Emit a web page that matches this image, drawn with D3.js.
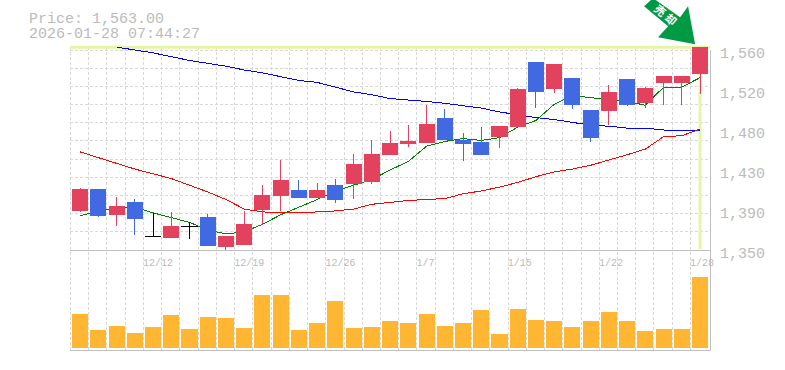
<!DOCTYPE html>
<html>
<head>
<meta charset="utf-8">
<style>
  html, body { margin: 0; padding: 0; background: #fff; }
  svg { display: block; font-family: "Liberation Mono", monospace; }
</style>
</head>
<body>
<svg width="785" height="370"></svg>
<script src="https://cdn.jsdelivr.net/npm/d3@7"></script>
<script>
const opens  = [1391,1414,1387,1400,1365,1363,1375,1385,1353,1355,1392,1407,1413,1405,1418,1419,1421,1450,1461,1462,1489,1465.5,1463,1469,1479,1547,1519,1531,1497,1496,1530,1504,1525,1525,1535];
const closes = [1414,1386,1396,1383,1365,1375,1375,1354,1365,1377,1408,1423,1405,1413,1402,1440,1451,1462,1464,1482,1465.5,1461,1450,1480,1519,1516,1545,1502,1468,1516,1502,1520,1533,1533,1563];
const highs  = [1415,1414,1406,1404,1389,1390,1379,1388,1365,1391,1418,1445,1423,1420,1425,1451,1466,1475,1481,1502,1498,1473,1479,1480,1520,1547,1545,1531,1497,1523,1530,1521,1533,1533,1563];
const lows   = [1390,1385,1375,1366,1365,1363,1362,1354,1350,1355,1376,1391,1405,1405,1399,1404,1419,1450,1458,1462,1465,1443,1450,1457,1479,1499,1515,1498,1463,1481,1501,1499,1502,1502,1514];
const ma5    = [1386,1391,1394,1395,1389,1384,1379,1371,1367,1369,1377,1387,1395,1403,1412,1418,1424,1434,1443,1459,1464,1467,1465,1468,1479,1486,1503,1512,1510,1508,1506,1502,1521,1521,1531];
const ma25   = [1453,1447,1441,1435,1430,1425,1418,1411,1403,1393,1390,1389,1389,1390,1391,1393,1398,1400,1402,1403,1404,1409,1412,1416,1421,1427,1432,1435,1439,1444.5,1450,1456,1469,1470,1477];
const ma75   = [null,null,1563,1560,1557,1553,1549,1546,1543,1539,1536,1532,1528,1526,1521,1516,1513,1509,1507.5,1506,1504,1501.5,1499,1495,1492,1489,1487,1484,1481,1480,1478,1478,1476,1476,1476];
const volumes = [34,18,22,15,21,33,19,31,30,20,53,53,18,25,47,20,21,27,25,34,22,25,38,14,39,28,27,21,27,36,27,17,19,19,71];
const tickIdx = [4,9,14,19,24,29,34];
const tickLabels = ['12/12','12/19','12/26','1/7','1/15','1/22','1/28'];
const priceTicks = [1350,1392,1434,1476,1518,1560];
const lastPrice = 1563;

const svg = d3.select('svg');

const x = d3.scaleBand().domain(d3.range(opens.length)).range([71, 709.2]).paddingInner(0.12).paddingOuter(0.06);
const y = d3.scaleLinear().domain([1350, 1560]).range([250, 50]);
const yVol = d3.scaleLinear().domain([0, 71]).range([348, 277]);
const step = x.step();
const cx = i => x(i) + x.bandwidth() / 2;

// grid
const grid = svg.append('g').attr('stroke', '#d8d8d8').attr('stroke-dasharray', '3,2').attr('shape-rendering', 'crispEdges');
grid.selectAll('.v').data(d3.range(opens.length)).enter().append('line')
	.attr('x1', i => cx(i) - step / 2 - 0.5).attr('x2', i => cx(i) - step / 2 - 0.5)
	.attr('y1', 47).attr('y2', 350);
grid.selectAll('.h').data(d3.range(12)).enter().append('line')
	.attr('x1', 70).attr('x2', 710)
	.attr('y1', i => 50 + i * 200 / 11).attr('y2', i => 50 + i * 200 / 11);

// last price crosshair
svg.append('line').attr('x1', 70).attr('x2', 710).attr('y1', y(lastPrice)).attr('y2', y(lastPrice))
	.attr('stroke', '#e4f5a3').attr('stroke-width', 3);
svg.append('line').attr('x1', cx(34)).attr('x2', cx(34)).attr('y1', 47).attr('y2', 249)
	.attr('stroke', '#e4f5a3').attr('stroke-width', 3);

// frame
const frame = svg.append('g').attr('stroke', '#c0c0c0').attr('shape-rendering', 'crispEdges');
frame.append('line').attr('x1', 70).attr('x2', 711).attr('y1', 250.5).attr('y2', 250.5);
frame.append('line').attr('x1', 70).attr('x2', 711).attr('y1', 350.5).attr('y2', 350.5);
frame.append('line').attr('x1', 710.5).attr('x2', 710.5).attr('y1', 50).attr('y2', 351);

// moving averages
const maLine = d3.line().defined(d => d !== null).x((d, i) => cx(i)).y(d => y(d));
[[ma75, '#0000ff'], [ma25, '#ff0000'], [ma5, '#008000']].forEach(([s, c]) => {
	svg.append('path').attr('d', maLine(s)).attr('fill', 'none').attr('stroke', c)
		.attr('stroke-width', 1).attr('shape-rendering', 'crispEdges');
});

// candles
const color = i => closes[i] > opens[i] ? '#e3425f' : closes[i] < opens[i] ? '#4169e1' : '#000';
const candles = svg.append('g').attr('shape-rendering', 'crispEdges');
candles.selectAll('line').data(d3.range(opens.length)).enter().append('line')
	.attr('x1', cx).attr('x2', cx)
	.attr('y1', i => y(highs[i])).attr('y2', i => y(lows[i]))
	.attr('stroke', color);
candles.selectAll('rect').data(d3.range(opens.length)).enter().append('rect')
	.attr('x', i => x(i))
	.attr('y', i => y(Math.max(opens[i], closes[i])))
	.attr('width', x.bandwidth())
	.attr('height', i => Math.max(1, Math.abs(y(opens[i]) - y(closes[i]))))
	.attr('fill', color);

// volume
svg.append('g').attr('shape-rendering', 'crispEdges')
	.selectAll('rect').data(volumes).enter().append('rect')
	.attr('x', (d, i) => x(i))
	.attr('y', d => yVol(d))
	.attr('width', x.bandwidth())
	.attr('height', d => yVol(0) - yVol(d))
	.attr('fill', '#ffb733');

// axes
const yAxis = d3.axisRight(y).tickValues(priceTicks).tickSize(0)
	.tickFormat(d => d3.format(',')(Math.round(d / 10) * 10));
const yG = svg.append('g').attr('transform', 'translate(720, 0)').call(yAxis);
yG.select('.domain').remove();
yG.selectAll('text').attr('x', 0).attr('dy', 7).attr('font-size', 15)
	.attr('font-family', '"Liberation Mono", monospace').attr('fill', '#bbb');

const xAxis = d3.axisBottom(x).tickValues(tickIdx).tickSize(0)
	.tickFormat(i => tickLabels[tickIdx.indexOf(i)]);
const xG = svg.append('g').attr('transform', 'translate(0, 257)').call(xAxis);
xG.select('.domain').remove();
xG.selectAll('text').attr('y', 0).attr('dy', 9).attr('x', -x.bandwidth() / 2 - 2).attr('text-anchor', 'start')
	.attr('font-size', 10).attr('font-family', '"Liberation Mono", monospace').attr('fill', '#bbb');

// header
svg.append('text').attr('x', 29).attr('y', 23).attr('font-size', 15).attr('fill', '#bbb').text('Price: 1,563.00');
svg.append('text').attr('x', 29).attr('y', 38).attr('font-size', 15).attr('fill', '#bbb').text('2026-01-28 07:44:27');

// signal arrow, anchored on the last candle's high
const arrow = svg.append('g').attr('transform', `translate(${cx(34) - 5}, ${y(highs[34]) - 3})`);
arrow.append('path')
	.attr('d', 'M0 0L-37 -7L-27 -18L-51 -38L-42 -46L-15 -27L-7 -38Z')
	.attr('fill', '#009a44');
arrow.append('text')
	.attr('transform', 'translate(-28.5, -28) rotate(40)')
	.attr('text-anchor', 'middle').attr('dy', 4)
	.attr('font-size', 11).attr('font-weight', 'bold').attr('letter-spacing', 3).attr('fill', '#fff')
	.attr('font-family', '"Noto Sans CJK JP"')
	.text('売却');
</script>
</body>
</html>
